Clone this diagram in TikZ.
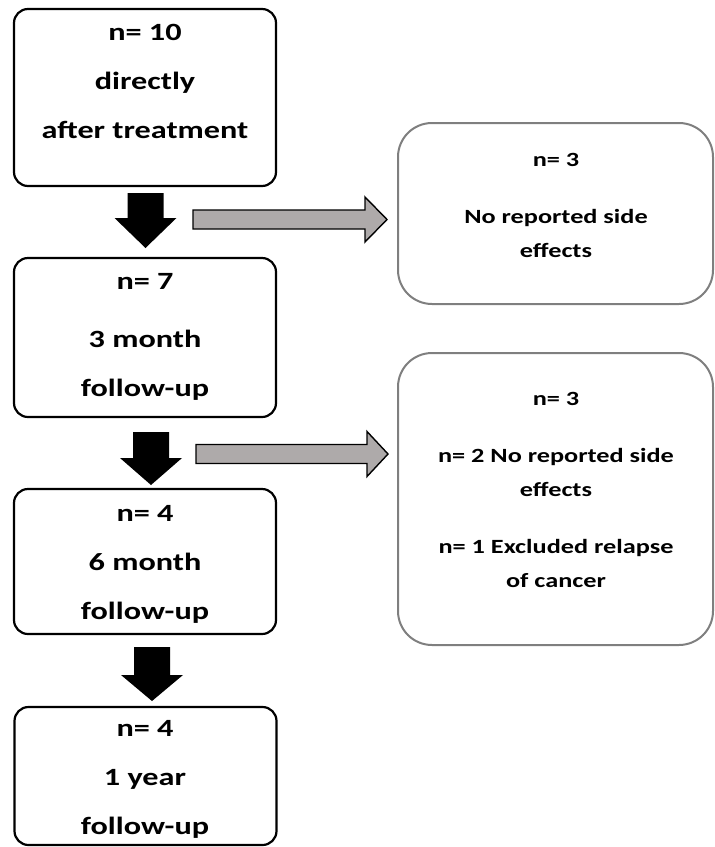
\documentclass[tikz,border=0pt]{standalone}
\usepackage{fontspec}
\usepackage{tikz}
\newfontfamily\boxfont{Carlito}[FakeStretch=1.3]
\definecolor{arrowgray}{HTML}{AEAAAA}
\definecolor{edgegray}{HTML}{7F7F7F}

\begin{document}
\begin{tikzpicture}
  [x=0.5pt,y=-0.5pt,
   box/.style={draw,line width=1.1pt,rounded corners=7pt,minimum width=131pt},
   sidebox/.style={draw=edgegray,line width=1pt,rounded corners=17pt,minimum width=157.5pt},
   bigtxt/.style={anchor=base,align=center,inner sep=0pt,font=\boxfont\bfseries\fontsize{12.4}{24.5}\selectfont},
   smalltxt/.style={anchor=base,align=center,inner sep=0pt,font=\boxfont\bfseries\fontsize{10.1}{17}\selectfont}]
  \useasboundingbox (0,0) rectangle (714,847);
  % follow-up boxes
  \node[box,minimum height=88.5pt] (b1) at (145,97.5) {};
  \node[box,minimum height=79.5pt] (b2) at (145,337.5) {};
  \node[box,minimum height=72.5pt] (b3) at (145,561.5) {};
  \node[box,minimum height=69pt] (b4) at (145.5,776) {};
  % text nodes sit on the baseline of their last line
  \node[bigtxt] (t1) at (145,138) {n= 10\\directly\\after treatment};
  \node[bigtxt] (t2) at (145,396) {n= 7\\[4.5pt]3 month\\follow-up};
  \node[bigtxt] (t3) at (145,619) {n= 4\\6 month\\follow-up};
  \node[bigtxt] (t4) at (145,834) {n= 4\\1 year\\follow-up};
  % side boxes
  \node[sidebox,minimum height=90.5pt] (r1) at (555.5,213.5) {};
  \node[sidebox,minimum height=146pt] (r2) at (555.5,499) {};
  \node[smalltxt] (s1) at (556,257) {n= 3\\[11.5pt]No reported side\\effects};
  \node[smalltxt] (s2) at (556,587) {n= 3\\[11.5pt]n= 2 No reported side\\effects\\[11.5pt]n= 1 Excluded relapse\\of cancer};
  % block arrows
  \foreach \n/\cx/\ya/\yb/\yc in {1/145.5/193/218/248, 2/151/432/458/485, 3/152/647/675/701}
    \fill (\cx-18,\ya) -- (\cx+18,\ya) -- (\cx+18,\yb) -- (\cx+31,\yb) -- (\cx,\yc)
      -- (\cx-31,\yb) -- (\cx-18,\yb) -- cycle;
  \foreach \n/\xa/\xb/\xc/\cy in {1/193/365/387/219.5, 2/196/367/388/454}
    \filldraw[fill=arrowgray,line width=0.7pt] (\xa,\cy-9.5) -- (\xb,\cy-9.5) -- (\xb,\cy-22.5)
      -- (\xc,\cy) -- (\xb,\cy+22.5) -- (\xb,\cy+9.5) -- (\xa,\cy+9.5) -- cycle;
\end{tikzpicture}
\end{document}
